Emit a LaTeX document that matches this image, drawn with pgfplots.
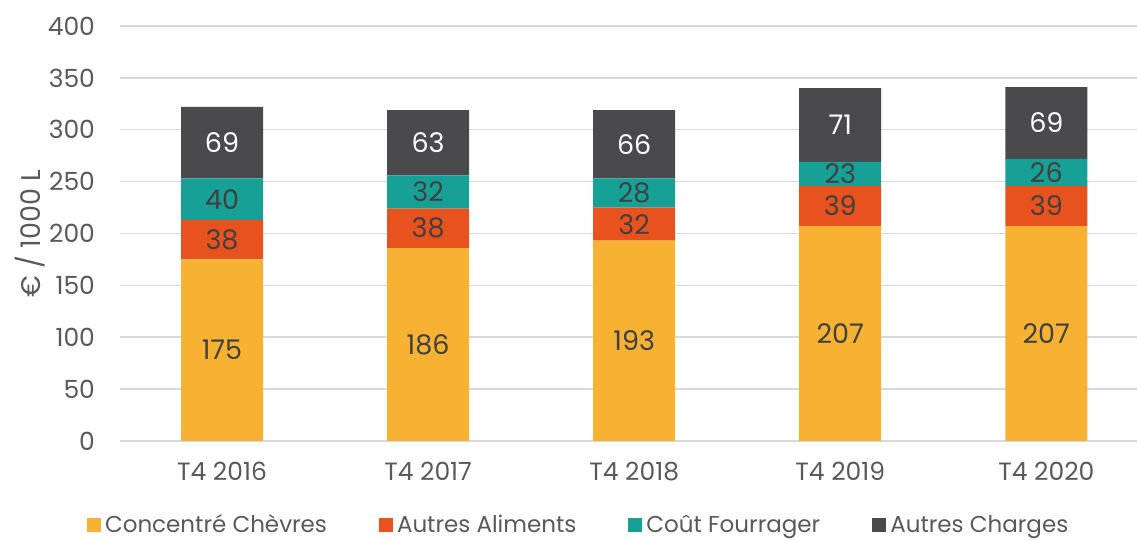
\documentclass[border=0pt]{standalone}
\usepackage{fontspec}
\setmainfont{Poppins}
\usepackage{pgfplots}
\usepackage{pgfplotstable}
\pgfplotsset{compat=1.18}
\definecolor{cA}{HTML}{F7B133}
\definecolor{cB}{HTML}{E8521E}
\definecolor{cC}{HTML}{17A095}
\definecolor{cD}{HTML}{4A4A4C}
\definecolor{txt}{HTML}{595959}
\definecolor{lbl}{HTML}{404040}
\definecolor{gridc}{HTML}{D9D9D9}
\pgfplotstableread{
x a b c d
0 175 38 40 69
1 186 38 32 63
2 193 32 28 66
3 207 39 23 71
4 207 39 26 69
}\data
\pgfplotsset{common/.style={
  scale only axis,
  width=508.5pt, height=207.5pt,
  xmin=-0.495, xmax=4.44,
  ymin=0, ymax=400,
}}
\begin{document}
\begin{tikzpicture}
\begin{axis}[
  common,
  name=ax,
  ybar stacked,
  bar width=41pt,
  ytick={0,50,...,400},
  xtick=data,
  xticklabels={T4 2016,T4 2017,T4 2018,T4 2019,T4 2020},
  ymajorgrids, xmajorgrids=false,
  grid style={draw=gridc, line width=0.75pt},
  axis line style={draw=none},
  tick style={draw=none},
  major tick length=0pt,
  /pgf/number format/assume math mode=true,
  ticklabel style={font=\fontsize{12.5}{14}\selectfont, text=txt},
  yticklabel style={anchor=east, xshift=-9pt},
  xticklabel style={anchor=north, yshift=-7pt},
  ylabel={€ / 1000 L},
  ylabel style={at={(axis description cs:-0.0885,0.5)}, anchor=center, rotate=0, font=\fontsize{13.5}{15}\selectfont, text=txt},
  legend columns=4,
  legend style={draw=none, fill=none, at={(axis description cs:0.452,-0.203)}, anchor=center,
    font=\fontsize{11.5}{13}\selectfont, text=txt,
    /tikz/every even column/.append style={column sep=24pt}},
  legend image code/.code={\fill[#1] (0pt,-3.5pt) rectangle (7pt,3.5pt);},
  legend cell align=left,
]
\addplot[fill=cA, draw=none] table[x=x, y=a]{\data};
\addplot[fill=cB, draw=none] table[x=x, y=b]{\data};
\addplot[fill=cC, draw=none] table[x=x, y=c]{\data};
\addplot[fill=cD, draw=none] table[x=x, y=d]{\data};
\legend{Concentré Chèvres, Autres Aliments, Coût Fourrager, Autres Charges}
\end{axis}
\begin{axis}[
  common,
  hide axis,
  point meta=explicit symbolic,
  nodes near coords={\pgfplotspointmeta},
  every node near coord/.append style={font=\fontsize{13.5}{15}\selectfont, anchor=center},
]
\addplot[draw=none, mark=none, nodes near coords style={text=lbl}] table[x=x, y expr=\thisrow{a}/2, meta=a]{\data};
\addplot[draw=none, mark=none, nodes near coords style={text=lbl}] table[x=x, y expr=\thisrow{a}+\thisrow{b}/2, meta=b]{\data};
\addplot[draw=none, mark=none, nodes near coords style={text=lbl}] table[x=x, y expr=\thisrow{a}+\thisrow{b}+\thisrow{c}/2, meta=c]{\data};
\addplot[draw=none, mark=none, nodes near coords style={text=white}] table[x=x, y expr=\thisrow{a}+\thisrow{b}+\thisrow{c}+\thisrow{d}/2, meta=d]{\data};
\end{axis}
\pgfresetboundingbox
\path ([xshift=-60pt,yshift=-50pt]ax.south west) rectangle ([yshift=13pt]ax.north east);
\end{tikzpicture}
\end{document}
